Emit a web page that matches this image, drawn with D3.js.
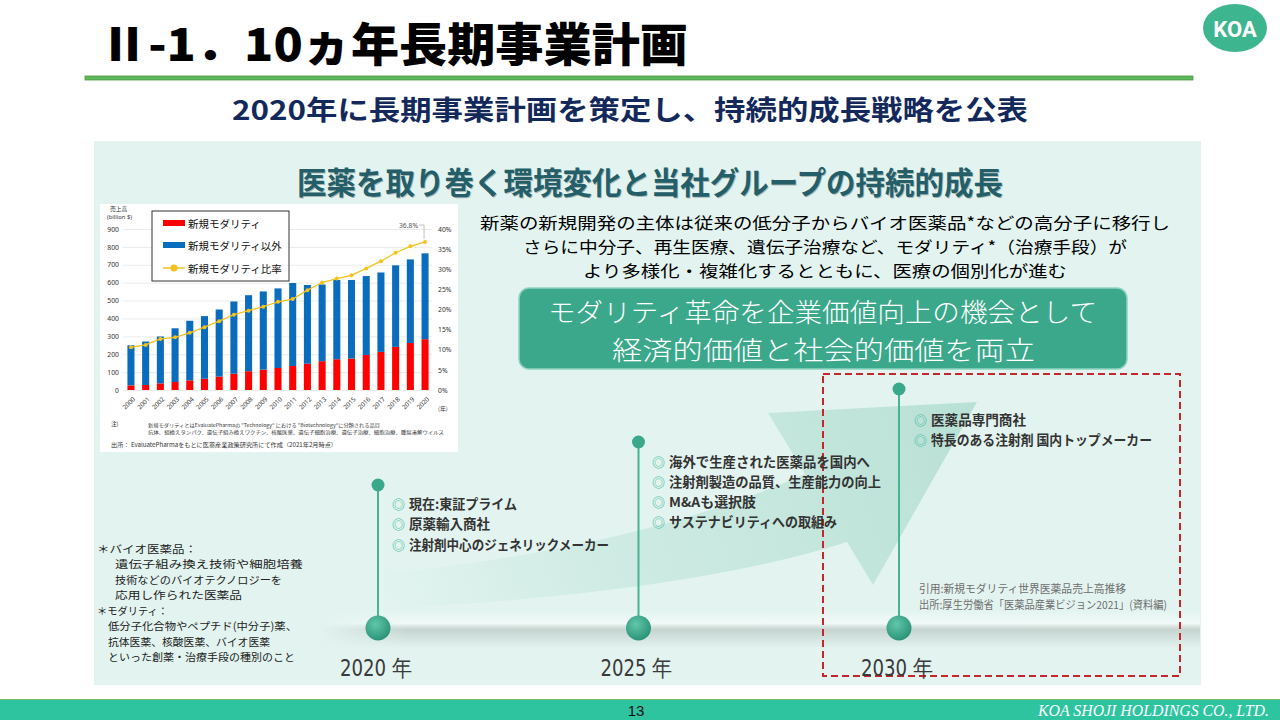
<!DOCTYPE html>
<html><head><meta charset="utf-8">
<script src="https://cdn.jsdelivr.net/npm/d3@7"></script>
<style>html,body{margin:0;padding:0;background:#fff;overflow:hidden}</style>
</head><body>
<script>
// ---------- DATA ----------
const years = ['2000','2001','2002','2003','2004','2005','2006','2007','2008','2009','2010','2011','2012','2013','2014','2015','2016','2017','2018','2019','2020'];
const newModality = [26,28,37,45,54,63,75,91,105,114,123,134,147,161,172,176,196,213,241,263,284];
const otherModality = [224,243,262,300,333,350,375,404,425,437,445,464,440,429,443,439,441,444,456,467,480];
const newRatio = [10.6,11.2,12.7,13.1,14.2,15.6,17.1,18.7,19.7,20.7,21.9,22.6,24.8,26.7,27.7,28.5,30.2,32.0,34.1,35.7,36.8];
const leftTicks = [0,100,200,300,400,500,600,700,800,900];
const rightTicks = [0,5,10,15,20,25,30,35,40];
const legendLabels = ['新規モダリティ','新規モダリティ以外','新規モダリティ比率'];
const timelineYears = ['2020','2025','2030'];
const bullets2020 = ['現在:東証プライム','原薬輸入商社','注射剤中心のジェネリックメーカー'];
const bullets2025 = ['海外で生産された医薬品を国内へ','注射剤製造の品質、生産能力の向上','M&Aも選択肢','サステナビリティへの取組み'];
const bullets2030 = ['医薬品専門商社','特長のある注射剤 国内トップメーカー'];

const JP = '"Noto Sans CJK JP","Noto Sans",sans-serif';
const svg = d3.select('body').append('svg').attr('width',1280).attr('height',720);
const defs = svg.append('defs');

function txt(g, x, y, s, o={}) {
  const t = g.append('text').attr('x',x).attr('y',y).text(s)
    .attr('font-family', o.family || JP).attr('font-size', o.size || 12)
    .attr('font-weight', o.weight || 400).attr('fill', o.fill || '#000')
    .attr('text-anchor', o.anchor || 'start').attr('dominant-baseline','central');
  if (o.len) t.attr('textLength', o.len).attr('lengthAdjust','spacingAndGlyphs');
  if (o.style) t.attr('font-style', o.style);
  return t;
}

// ---------- HEADER ----------
txt(svg, 100, 41, 'Ⅱ-1．10ヵ年長期事業計画', {size:46, weight:900, len:588});
svg.append('rect').attr('x',85).attr('y',76).attr('width',1108).attr('height',4)
  .attr('fill','#5cb85c').attr('stroke','#4f9a3f').attr('stroke-width',0.8);
svg.append('ellipse').attr('cx',1235).attr('cy',28).attr('rx',32).attr('ry',24).attr('fill','#3db58f');
txt(svg, 1235, 29, 'KOA', {family:'Roboto,"Liberation Sans",sans-serif', size:22, weight:700, fill:'#fff', anchor:'middle'});
txt(svg, 232, 108, '2020年に長期事業計画を策定し、持続的成長戦略を公表', {size:27, weight:700, fill:'#13295b', len:796});

// ---------- PANEL ----------
svg.append('rect').attr('x',94).attr('y',141).attr('width',1107).attr('height',544).attr('fill','#e3f4f0');
txt(svg, 298, 181, '医薬を取り巻く環境変化と当社グループの持続的成長', {size:31, weight:700, fill:'rgba(0,0,0,0.25)', len:706});
txt(svg, 297, 180, '医薬を取り巻く環境変化と当社グループの持続的成長', {size:31, weight:700, fill:'#245f69', len:706});

// arrow
const ag = defs.append('linearGradient').attr('id','arrowGrad').attr('gradientUnits','userSpaceOnUse')
  .attr('x1',380).attr('y1',600).attr('x2',980).attr('y2',400);
ag.append('stop').attr('offset',0).attr('stop-color','#bfe4da').attr('stop-opacity',0);
ag.append('stop').attr('offset',0.35).attr('stop-color','#bfe4da').attr('stop-opacity',0.55);
ag.append('stop').attr('offset',1).attr('stop-color','#b3ded2').attr('stop-opacity',0.9);
svg.append('path').attr('fill','url(#arrowGrad)')
  .attr('d','M 380,574 Q 640,548 805,474 L 768,413 L 977,402 L 873,585 L 847,542 Q 690,592 400,608 Z');

// timeline shadow band
const bg = defs.append('linearGradient').attr('id','bandGrad').attr('x1',0).attr('y1',0).attr('x2',0).attr('y2',1);
bg.append('stop').attr('offset',0).attr('stop-color','#ffffff').attr('stop-opacity',0);
bg.append('stop').attr('offset',0.35).attr('stop-color','#ffffff').attr('stop-opacity',0.55);
bg.append('stop').attr('offset',0.52).attr('stop-color','#9aa6a1').attr('stop-opacity',0.4);
bg.append('stop').attr('offset',1).attr('stop-color','#9aa6a1').attr('stop-opacity',0);
const bm = defs.append('linearGradient').attr('id','bandMaskGrad');
bm.append('stop').attr('offset',0).attr('stop-color','#fff').attr('stop-opacity',0);
bm.append('stop').attr('offset',0.1).attr('stop-color','#fff').attr('stop-opacity',1);
bm.append('stop').attr('offset',1).attr('stop-color','#fff').attr('stop-opacity',1);
defs.append('mask').attr('id','bandMask').append('rect').attr('x',320).attr('y',605).attr('width',880).attr('height',50).attr('fill','url(#bandMaskGrad)');
svg.append('rect').attr('x',320).attr('y',610).attr('width',880).attr('height',38).attr('fill','url(#bandGrad)').attr('mask','url(#bandMask)');

// text block
txt(svg, 480, 222, '新薬の新規開発の主体は従来の低分子からバイオ医薬品*などの高分子に移行し', {size:16.4, len:690});
txt(svg, 523, 246, 'さらに中分子、再生医療、遺伝子治療など、モダリティ*（治療手段）が', {size:16.4, len:604});
txt(svg, 583, 270, 'より多様化・複雑化するとともに、医療の個別化が進む', {size:16.4, len:484});

svg.append('rect').attr('x',519).attr('y',288).attr('width',608).attr('height',81).attr('rx',10)
  .attr('fill','#3ba78b').attr('stroke','#8fd3c0').attr('stroke-width',1.5);
txt(svg, 548, 310, 'モダリティ革命を企業価値向上の機会として', {size:26, weight:300, fill:'#fff', len:549});
txt(svg, 612, 348, '経済的価値と社会的価値を両立', {size:26, weight:300, fill:'#fff', len:423});

// red dashed box
svg.append('rect').attr('x',823).attr('y',374).attr('width',357).attr('height',302)
  .attr('fill','none').attr('stroke','#c4262b').attr('stroke-width',2).attr('stroke-dasharray','7,4');

// timeline
const tx = d3.scalePoint().domain(timelineYears).range([378, 899]);
const stemTop = {'2020':485, '2025':442, '2030':389};
const rg = defs.append('radialGradient').attr('id','nodeGrad').attr('cx','40%').attr('cy','35%').attr('r','65%');
rg.append('stop').attr('offset',0).attr('stop-color','#62c7aa');
rg.append('stop').attr('offset',1).attr('stop-color','#2b9478');
timelineYears.forEach(yr => {
  const x = tx(yr);
  svg.append('line').attr('x1',x).attr('x2',x).attr('y1',stemTop[yr]).attr('y2',628).attr('stroke','#45b394').attr('stroke-width',2);
  svg.append('circle').attr('cx',x).attr('cy',stemTop[yr]).attr('r',6.5).attr('fill','#3aa88a');
  svg.append('circle').attr('cx',x).attr('cy',628).attr('r',12.5).attr('fill','url(#nodeGrad)');
  txt(svg, x - 38, 668, yr + ' 年', {family:'"Liberation Sans Narrow","DejaVu Sans Condensed","Liberation Sans",sans-serif', size:23, fill:'#3a3a3a', len:72});
});
function bulletList(list, x0, ys, ends) {
  list.forEach((s,i) => {
    txt(svg, x0, ys[i], '◎', {size:13, weight:700, fill:'#4dbfa0'});
    txt(svg, x0 + 17, ys[i], s, {size:13.5, weight:700, fill:'#333', len: ends[i] - (x0 + 17)});
  });
}
bulletList(bullets2020, 392, [503,523,544], [517,490,609]);
bulletList(bullets2025, 652, [461,481,501,521], [870,881,756,837]);
bulletList(bullets2030, 914, [419,439], [1026,1152]);

txt(svg, 919, 588, '引用:新規モダリティ世界医薬品売上高推移', {size:11, fill:'#6e6e6e', len:207});
txt(svg, 919, 604, '出所:厚生労働省「医薬品産業ビジョン2021」(資料編)', {size:11, fill:'#6e6e6e', len:248});

// left notes
const notes = [
  ['＊バイオ医薬品：',97,548,100],
  ['遺伝子組み換え技術や細胞培養',115,563.5,188],
  ['技術などのバイオテクノロジーを',115,579,167],
  ['応用し作られた医薬品',115,594.5,127],
  ['＊モダリティ：',97,610,71],
  ['低分子化合物やペプチド(中分子)薬、',108,625.5,189],
  ['抗体医薬、核酸医薬、バイオ医薬',108,641,162],
  ['といった創薬・治療手段の種別のこと',108,656.5,187]
];
notes.forEach(n => txt(svg, n[1], n[2], n[0], {size:10.6, fill:'#222', len:n[3]}));

// ---------- EMBEDDED CHART ----------
const cg = svg.append('g');
cg.append('rect').attr('x',100).attr('y',204).attr('width',358).attr('height',248).attr('fill','#fff');
const x = d3.scaleBand().domain(years).range([123.6, 432.4]).paddingInner(0.52).paddingOuter(0.26);
const y = d3.scaleLinear().domain([0,900]).range([390,229]);
const y2 = d3.scaleLinear().domain([0,40]).range([390,229]);
const AX = '"Noto Sans","DejaVu Sans",sans-serif';

const gl = cg.append('g').attr('transform','translate(123,0)')
  .call(d3.axisLeft(y).tickValues(leftTicks).tickSize(-(432-123)).tickPadding(4));
gl.select('.domain').remove();
gl.selectAll('line').attr('stroke','#e2e2e2').attr('stroke-width',0.7);
gl.selectAll('text').attr('font-family',AX).attr('font-size',6.8).attr('fill','#333');

const gr = cg.append('g').attr('transform','translate(432,0)')
  .call(d3.axisRight(y2).tickValues(rightTicks).tickSize(0).tickPadding(6).tickFormat(d => d + '%'));
gr.select('.domain').remove();
gr.selectAll('text').attr('font-family',AX).attr('font-size',6.8).attr('fill','#333');

const gb = cg.append('g').attr('transform','translate(0,395)')
  .call(d3.axisBottom(x).tickSize(0).tickPadding(0));
gb.select('.domain').remove();
gb.selectAll('text').attr('font-family',AX).attr('font-size',6.3).attr('fill','#333')
  .attr('text-anchor','end').attr('dy','0.35em')
  .attr('transform','translate(3,3) rotate(-45)');

cg.selectAll('.barNew').data(years).join('rect')
  .attr('x', d => x(d)).attr('width', x.bandwidth())
  .attr('y', (d,i) => y(newModality[i])).attr('height', (d,i) => y(0) - y(newModality[i]))
  .attr('fill','#ff0000');
cg.selectAll('.barOther').data(years).join('rect')
  .attr('x', d => x(d)).attr('width', x.bandwidth())
  .attr('y', (d,i) => y(newModality[i] + otherModality[i]))
  .attr('height', (d,i) => y(newModality[i]) - y(newModality[i] + otherModality[i]))
  .attr('fill','#0a6cbd');

const line = d3.line().x((d,i) => x(years[i]) + x.bandwidth()/2).y(d => y2(d));
cg.append('path').datum(newRatio).attr('d', line).attr('fill','none').attr('stroke','#f5c21b').attr('stroke-width',1.3);
cg.selectAll('.pt').data(newRatio).join('circle')
  .attr('cx', (d,i) => x(years[i]) + x.bandwidth()/2).attr('cy', d => y2(d)).attr('r',2)
  .attr('fill','#f5c21b');

// annotation
const lastX = x(years[years.length-1]) + x.bandwidth()/2;
const lastY = y2(newRatio[newRatio.length-1]);
cg.append('path').attr('d', `M ${lastX-6},${225} L ${lastX-1},${225} L ${lastX-1},${lastY-3}`)
  .attr('fill','none').attr('stroke','#aaa').attr('stroke-width',0.7);
txt(cg, lastX - 7, 225, newRatio[newRatio.length-1].toFixed(1) + '%', {family:AX, size:6.8, fill:'#555', anchor:'end'});

txt(cg, 110, 208, '売上高', {size:5.8, fill:'#333'});
txt(cg, 107, 217, '(billion $)', {family:AX, size:5.8, fill:'#333'});
txt(cg, 438, 408, '(年)', {size:5.8, fill:'#333'});

// legend
cg.append('rect').attr('x',152).attr('y',211).attr('width',137).attr('height',70).attr('fill','#fff').attr('stroke','#333').attr('stroke-width',1);
cg.append('rect').attr('x',163).attr('y',220).attr('width',22).attr('height',6).attr('fill','#ff0000');
cg.append('rect').attr('x',163).attr('y',242).attr('width',22).attr('height',6).attr('fill','#0a6cbd');
cg.append('line').attr('x1',163).attr('x2',185).attr('y1',268).attr('y2',268).attr('stroke','#f5c21b').attr('stroke-width',1.5);
cg.append('circle').attr('cx',174).attr('cy',268).attr('r',3.5).attr('fill','#f5c21b');
legendLabels.forEach((s,i) => txt(cg, 188, 223 + i*22.5, s, {size:10.5, fill:'#111'}));

// notes in chart
txt(cg, 111, 424, '注)', {size:5.6, fill:'#333'});
txt(cg, 148, 424, '新規モダリティとはEvaluatePharmaの “Technology” における “Biotechnology”に分類される品目', {size:4.8, fill:'#333', len:232});
txt(cg, 148, 431, '抗体、組換えタンパク、遺伝子組み換えワクチン、核酸医薬、遺伝子細胞治療、遺伝子治療、細胞治療、腫瘍溶解ウイルス', {size:4.8, fill:'#333', len:296});
txt(cg, 111, 445, '出所：  EvaluatePharmaをもとに医薬産業政策研究所にて作成（2021年2月時点）', {size:5.6, fill:'#333', len:226});

// ---------- FOOTER ----------
svg.append('rect').attr('x',0).attr('y',699).attr('width',1280).attr('height',21).attr('fill','#2ec4a0');
svg.append('line').attr('x1',0).attr('x2',1280).attr('y1',699.5).attr('y2',699.5).attr('stroke','#7ab86a').attr('stroke-width',1);
txt(svg, 636, 710, '13', {family:'"Liberation Sans",sans-serif', size:15, fill:'#111', anchor:'middle'});
txt(svg, 1038, 710, 'KOA SHOJI HOLDINGS CO., LTD.', {family:'"Liberation Serif",serif', size:16, style:'italic', fill:'#fff', len:231});
</script>
</body></html>
